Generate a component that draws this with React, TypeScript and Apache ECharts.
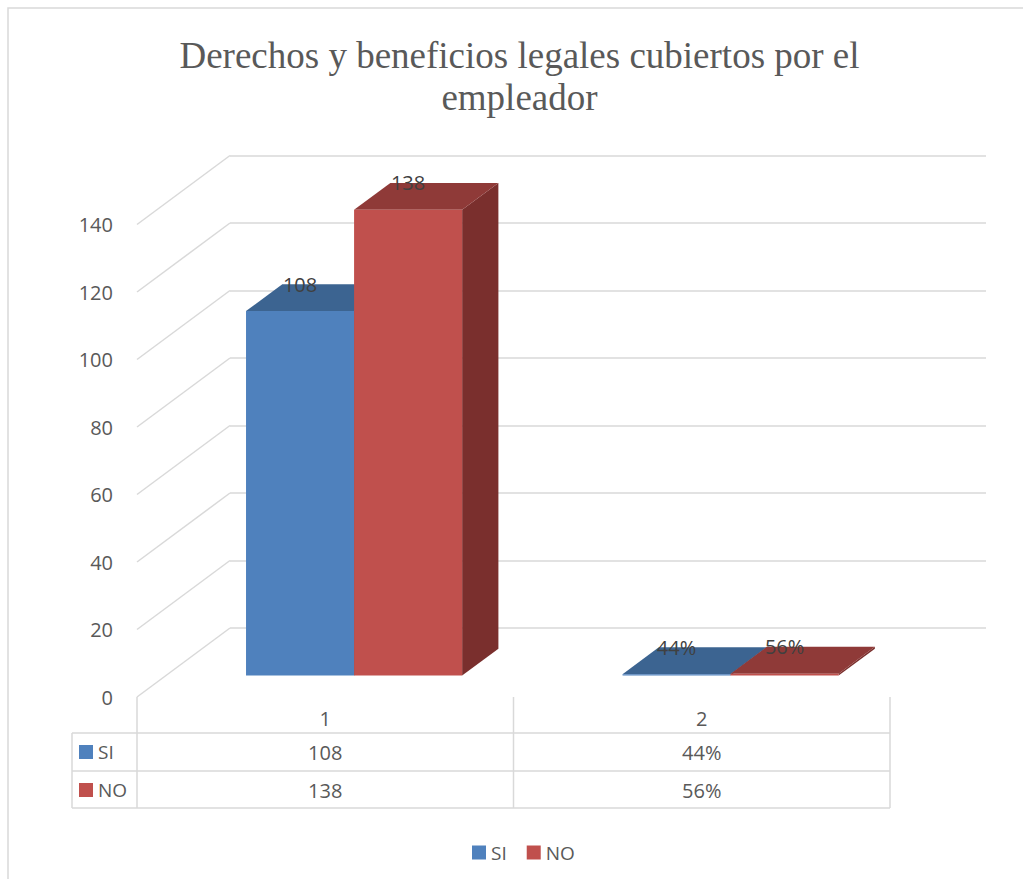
import React, { useEffect, useRef } from 'react';
import * as echarts from 'echarts';

// ---------- data ----------
const categories = ['1', '2'];
const seriesNames = ['SI', 'NO'];
const siValues = [108, 0.44];
const noValues = [138, 0.56];
const siLabels = ['108', '44%'];
const noLabels = ['138', '56%'];
const yTicks = [0, 20, 40, 60, 80, 100, 120, 140];
const yMin = 0;
const yMax = 140;
const yInterval = 20;
const titleText = 'Derechos y beneficios legales cubiertos por el\nempleador';

// ---------- style / layout ----------
const SANS = "'Open Sans', 'Liberation Sans', sans-serif";
const SERIF = "'Liberation Serif', 'DejaVu Serif', serif";
const GRID_COLOR = '#D9D9D9';
const TEXT_COLOR = '#595959';
const LABEL_COLOR = '#404040';
const PALETTE = [
  { front: '#4F81BD', top: '#3C6491', side: '#2F5077' },
  { front: '#C0504D', top: '#8F3A38', side: '#7A2F2D' },
];
const FRONT = { left: 137, top: 224.5, width: 753, height: 472.5 };
const BACK = { left: 230, top: 155.5, width: 756, height: 472.5 };
const DEPTH = [93, -69];
const F_FRAC = 0.31;
const B_FRAC = 0.7;
const BAR_FRAC = 0.287;

function makeBarRender(sideIdx: number, colors: any, labels: string[]) {
  return (params: any, api: any) => {
    const idx = params.dataIndex;
    const cat = api.value(0);
    const val = api.value(1);
    const base = api.coord([cat, 0]);
    const top = api.coord([cat, val]);
    const band = api.size([1, 0])[0];
    const w = band * BAR_FRAC;
    const xL = sideIdx === 0 ? base[0] - w : base[0];
    const xR = xL + w;
    const fx = DEPTH[0] * F_FRAC;
    const fy = DEPTH[1] * F_FRAC;
    const bx = DEPTH[0] * B_FRAC;
    const by = DEPTH[1] * B_FRAC;
    const yB = base[1];
    const yT = top[1];
    return {
      type: 'group',
      children: [
        {
          type: 'polygon',
          shape: {
            points: [
              [xR + fx, yT + fy],
              [xR + fx, yB + fy],
              [xR + bx, yB + by],
              [xR + bx, yT + by],
            ],
          },
          style: { fill: colors.side },
        },
        {
          type: 'polygon',
          shape: {
            points: [
              [xL + fx, yT + fy],
              [xR + fx, yT + fy],
              [xR + bx, yT + by],
              [xL + bx, yT + by],
            ],
          },
          style: { fill: colors.top },
        },
        {
          type: 'rect',
          shape: { x: xL + fx, y: yT + fy, width: w, height: Math.max(yB - yT, 1.2) },
          style: { fill: colors.front },
        },
        {
          type: 'text',
          z2: 10,
          style: {
            x: (xL + xR) / 2 + fx,
            y: yT + by,
            text: labels[idx],
            fill: LABEL_COLOR,
            font: `20px ${SANS}`,
            align: 'center',
            verticalAlign: 'middle',
          },
        },
      ],
    };
  };
}

function diagRender(params: any, api: any) {
  const v = api.value(1);
  const p = api.coord([0, v]);
  const x0 = params.coordSys.x;
  return {
    type: 'line',
    shape: { x1: x0, y1: p[1], x2: x0 + DEPTH[0], y2: p[1] + DEPTH[1] },
    style: { stroke: GRID_COLOR, lineWidth: 1.5 },
  };
}

export default function App() {
  const ref = useRef<HTMLDivElement>(null);

  useEffect(() => {
    if (!ref.current) return;
    const chart = echarts.init(ref.current, null, { renderer: 'svg' });

    const colL = FRONT.left;
    const colM = FRONT.left + FRONT.width / 2;
    const colR = FRONT.left + FRONT.width;
    const colCenters = [(colL + colM) / 2, (colM + colR) / 2];
    const tblTop = FRONT.top + FRONT.height;
    const rowLines = [733, 771, 808];
    const tblLeft = 72;
    const rowCenters = [752, 790];
    const rowValues = [siLabels, noLabels];

    const lineStyle = { stroke: GRID_COLOR, lineWidth: 1.5 };
    const graphics: any[] = [
      {
        type: 'rect',
        z: -10,
        shape: { x: 8, y: 8, width: 1100, height: 1000 },
        style: { fill: 'none', stroke: GRID_COLOR, lineWidth: 1.5 },
      },
      {
        type: 'text',
        style: {
          x: 519.5,
          y: 76,
          text: titleText,
          fill: TEXT_COLOR,
          font: `37px ${SERIF}`,
          lineHeight: 42,
          align: 'center',
          verticalAlign: 'middle',
        },
      },
    ];
    [colL, colM, colR].forEach((x) => {
      graphics.push({ type: 'line', shape: { x1: x, y1: tblTop, x2: x, y2: rowLines[2] }, style: lineStyle });
    });
    rowLines.forEach((y) => {
      graphics.push({ type: 'line', shape: { x1: tblLeft, y1: y, x2: colR, y2: y }, style: lineStyle });
    });
    graphics.push({ type: 'line', shape: { x1: tblLeft, y1: rowLines[0], x2: tblLeft, y2: rowLines[2] }, style: lineStyle });
    seriesNames.forEach((name, r) => {
      graphics.push({
        type: 'rect',
        shape: { x: 79, y: rowCenters[r] - 7, width: 14, height: 14 },
        style: { fill: PALETTE[r].front },
      });
      graphics.push({
        type: 'text',
        style: {
          x: 98,
          y: rowCenters[r],
          text: name,
          fill: TEXT_COLOR,
          font: `19px ${SANS}`,
          align: 'left',
          verticalAlign: 'middle',
        },
      });
      rowValues[r].forEach((t, c) => {
        graphics.push({
          type: 'text',
          style: {
            x: colCenters[c],
            y: rowCenters[r],
            text: t,
            fill: TEXT_COLOR,
            font: `20px ${SANS}`,
            align: 'center',
            verticalAlign: 'middle',
          },
        });
      });
    });

    const option: any = {
      animation: false,
      backgroundColor: '#ffffff',
      legend: {
        left: 472,
        top: 843,
        padding: 0,
        itemWidth: 14,
        itemHeight: 14,
        itemGap: 20,
        icon: 'rect',
        data: seriesNames,
        textStyle: { fontFamily: SANS, fontSize: 19, color: TEXT_COLOR },
      },
      grid: [
        { left: FRONT.left, top: FRONT.top, width: FRONT.width, height: FRONT.height },
        { left: BACK.left, top: BACK.top, width: BACK.width, height: BACK.height },
      ],
      xAxis: [
        {
          type: 'category',
          gridIndex: 0,
          data: categories,
          axisLine: { show: false },
          axisTick: { show: false },
          axisLabel: { margin: 11, fontFamily: SANS, fontSize: 20, color: TEXT_COLOR },
          splitLine: { show: false },
        },
        {
          type: 'category',
          gridIndex: 1,
          data: categories,
          show: false,
        },
      ],
      yAxis: [
        {
          type: 'value',
          gridIndex: 0,
          min: yMin,
          max: yMax,
          interval: yInterval,
          axisLine: { show: false },
          axisTick: { show: false },
          splitLine: { show: false },
          axisLabel: { margin: 24, fontFamily: SANS, fontSize: 20, color: TEXT_COLOR },
        },
        {
          type: 'value',
          gridIndex: 1,
          min: yMin,
          max: yMax,
          interval: yInterval,
          axisLine: { show: false },
          axisTick: { show: false },
          axisLabel: { show: false },
          splitLine: { show: true, lineStyle: { color: GRID_COLOR, width: 1.5 } },
        },
      ],
      graphic: graphics,
      series: [
        {
          type: 'custom',
          name: 'grid-diagonals',
          xAxisIndex: 0,
          yAxisIndex: 0,
          z: 1,
          silent: true,
          renderItem: diagRender,
          data: yTicks.map((v) => [0, v]),
        },
        {
          type: 'custom',
          name: seriesNames[0],
          xAxisIndex: 0,
          yAxisIndex: 0,
          z: 2,
          itemStyle: { color: PALETTE[0].front },
          renderItem: makeBarRender(0, PALETTE[0], siLabels),
          data: siValues.map((v, i) => [i, v]),
        },
        {
          type: 'custom',
          name: seriesNames[1],
          xAxisIndex: 0,
          yAxisIndex: 0,
          z: 3,
          itemStyle: { color: PALETTE[1].front },
          renderItem: makeBarRender(1, PALETTE[1], noLabels),
          data: noValues.map((v, i) => [i, v]),
        },
      ],
    };
    chart.setOption(option);
    return () => chart.dispose();
  }, []);

  return (
    <div
      ref={ref}
      style={{ position: 'absolute', left: 0, top: 0, width: 1023, height: 879, background: '#fff' }}
    />
  );
}
